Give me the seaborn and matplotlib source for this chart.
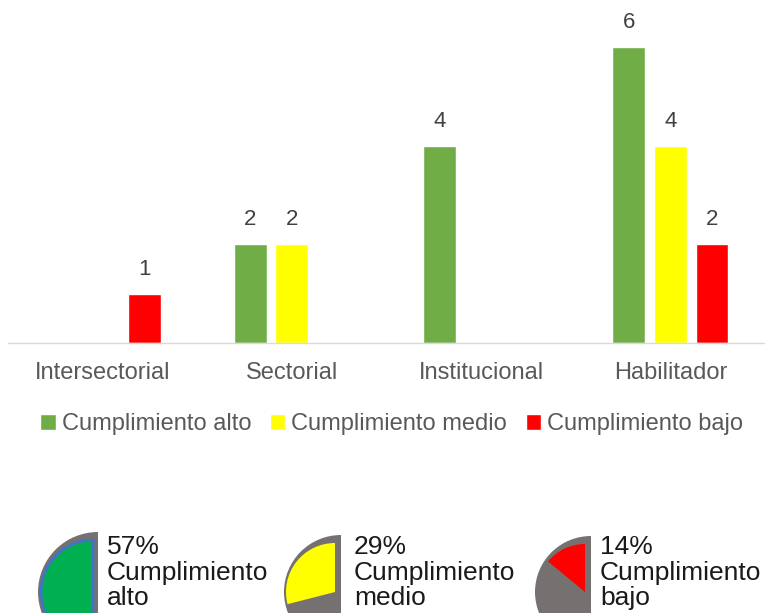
import numpy as np
import pandas as pd
import matplotlib
matplotlib.use('Agg')
import matplotlib.pyplot as plt
from matplotlib.patches import Wedge
import seaborn as sns

# Data
categories = ['Intersectorial', 'Sectorial', 'Institucional', 'Habilitador']
levels = ['Cumplimiento alto', 'Cumplimiento medio', 'Cumplimiento bajo']
alto = [0, 2, 4, 6]
medio = [0, 2, 0, 4]
bajo = [1, 0, 0, 2]
colors = ['#70ad47', '#ffff00', '#ff0000']

pct_labels = ['57%', '29%', '14%']
pct_values = [57, 29, 14]
pct_names = ['alto', 'medio', 'bajo']
pct_colors = ['#00b050', '#ffff00', '#ff0000']

df = pd.DataFrame({
    'categoria': categories * 3,
    'nivel': [levels[0]] * 4 + [levels[1]] * 4 + [levels[2]] * 4,
    'valor': alto + medio + bajo,
})

sns.set_theme(style='white')
plt.rcParams['font.family'] = ['Liberation Sans', 'DejaVu Sans']
text_gray = '#595959'

fig = plt.figure(figsize=(7.65, 6.13), dpi=100)
ax = fig.add_axes([0.0105, 1 - 343 / 613, 0.9895, 343 / 613])

sns.barplot(data=df, x='categoria', y='valor', hue='nivel', order=categories,
            hue_order=levels, palette=colors, width=0.66, gap=0.21,
            saturation=1, ax=ax, legend=True)

for cont in ax.containers:
    labels = ['' if v == 0 else f'{int(v)}' for v in cont.datavalues]
    ax.bar_label(cont, labels=labels, padding=10, fontsize=16, color='#404040')

ax.set_ylim(0, 6.95)
ax.set_xlim(-0.5, 3.5)
ax.set_xlabel('')
ax.set_ylabel('')
ax.set_yticks([])
ax.tick_params(axis='x', length=0, pad=14, labelsize=17, labelcolor=text_gray)
for s in ['top', 'right', 'left']:
    ax.spines[s].set_visible(False)
ax.spines['bottom'].set_color('#d9d9d9')
ax.spines['bottom'].set_linewidth(1)

handles, labs = ax.get_legend_handles_labels()
ax.get_legend().remove()
fig.legend(handles, labs, loc='center', bbox_to_anchor=(0.512, 1 - 424 / 613),
           ncol=3, frameon=False, fontsize=17, handlelength=0.65, handleheight=0.65,
           handletextpad=0.25, columnspacing=0.8, labelcolor=text_gray)

# Bottom gauge icons (y axis inverted: visual top is 270 deg)
ov = fig.add_axes([0, 0, 1, 1], facecolor='none')
ov.set_xlim(0, 765)
ov.set_ylim(613, 0)
ov.set_aspect('equal')
ov.axis('off')

centers = [(98, 592), (341, 592), (591, 592)]
radii = [60, 57, 56]
text_x = [107, 354, 600]
for (cx, cy), r, tx, p, lab, name, col in zip(centers, radii, text_x, pct_values,
                                               pct_labels, pct_names, pct_colors):
    ov.add_patch(Wedge((cx, cy), r, 90, 270, facecolor='#767171', edgecolor='none'))
    span = min(p / 100 * 360, 180)
    if p > 50:
        ov.add_patch(Wedge((cx - 5, cy), r - 8, 90, 270, facecolor=col,
                           edgecolor='#4472c4', linewidth=2))
    else:
        ov.add_patch(Wedge((cx - 6, cy), r - 8, 270 - span, 270, facecolor=col,
                           edgecolor='none'))
    ov.text(tx, 535, f'{lab}\nCumplimiento\n{name}', fontsize=19, color='#1a1a1a',
            va='top', ha='left', linespacing=1.08)

fig.savefig('out.png', dpi=100)
